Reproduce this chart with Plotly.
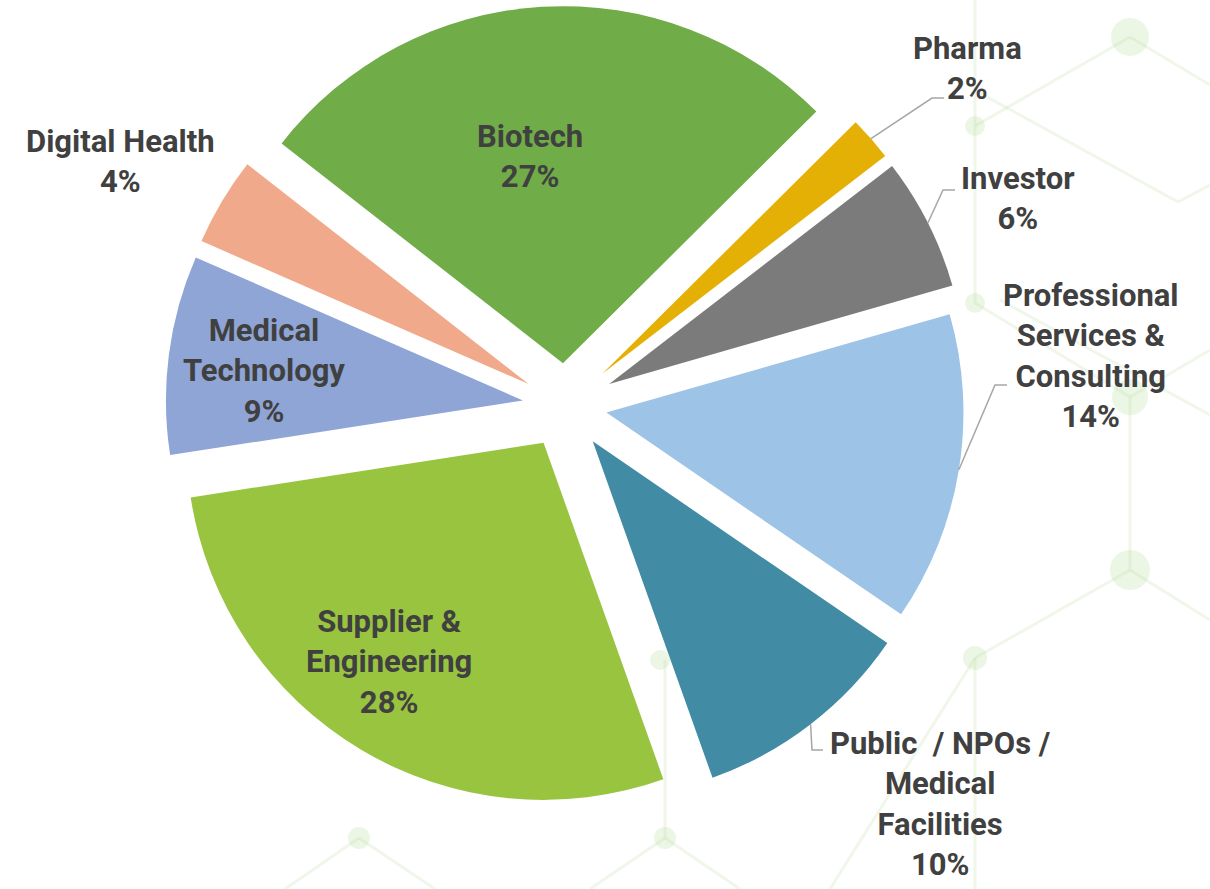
import math
import plotly.graph_objects as go

# data
labels = ["Biotech", "Pharma", "Investor", "Professional Services & Consulting",
          "Public / NPOs / Medical Facilities", "Supplier & Engineering",
          "Medical Technology", "Digital Health"]
shares = [27, 2, 6, 14, 10, 28, 9, 4]
pulls = [0.12, 0.137, 0.137, 0.116, 0.125, 0.12, 0.12, 0.12]
colors = ["#70ac48", "#e5b006", "#7b7b7b", "#9dc3e6", "#418ba5", "#98c440", "#8ea5d5", "#f1a98b"]
label_text = ["Biotech", "Pharma", "Investor", "Professional<br>Services &<br>Consulting",
              "Public  / NPOs /<br>Medical<br>Facilities", "Supplier &<br>Engineering",
              "Medical<br>Technology", "Digital Health"]

W, H = 1210, 889
START = -52  # first slice starts 52 deg left of 12 o'clock

# pie box in pixels
cx, cy, half = 565.5, 406, 406
r = half / (1 + max(pulls))


def X(px):
    return px / W


def Y(py):
    return 1 - py / H


fig = go.Figure(go.Pie(
    labels=labels, values=shares, sort=False, direction="clockwise",
    rotation=START, pull=pulls, textinfo="none",
    marker=dict(colors=colors, line=dict(width=0)),
    domain=dict(x=[X(cx - half), X(cx + half)], y=[Y(cy + half), Y(cy - half)]),
    showlegend=False,
))

# label centres (pixels)
label_pos = {
    "Biotech": (530, 156),
    "Pharma": (967, 68),
    "Investor": (1018, 199),
    "Professional Services & Consulting": (1091, 356),
    "Public / NPOs / Medical Facilities": (940, 804),
    "Supplier & Engineering": (389, 662),
    "Medical Technology": (264, 371),
    "Digital Health": (120, 161),
}
# leader line elbow + end (pixels)
leaders = {
    "Pharma": [(932, 98), (944, 98)],
    "Investor": [(943, 190), (955, 190)],
    "Professional Services & Consulting": [(995, 385), (1007, 385)],
    "Public / NPOs / Medical Facilities": [(812, 750), (823, 750)],
}

total = sum(shares)
cum = 0
anns = []
shapes = []
for lab, txt, v, p in zip(labels, label_text, shares, pulls):
    mid = math.radians(START + 360 * (cum + v / 2) / total)
    cum += v
    lx, ly = label_pos[lab]
    anns.append(dict(
        x=X(lx), y=Y(ly), xref="paper", yref="paper", showarrow=False,
        text=f"{txt}<br>{round(100 * v / total)}%", align="center",
        xanchor="center", yanchor="middle",
        font=dict(family="Roboto", size=31, color="#404040", weight="bold"),
    ))
    if lab in leaders:
        ax = cx + r * (1 + p) * math.sin(mid)
        ay = cy - r * (1 + p) * math.cos(mid)
        pts = [(ax, ay)] + leaders[lab]
        path = "M " + " L ".join(f"{X(a):.5f},{Y(b):.5f}" for a, b in pts)
        shapes.append(dict(type="path", path=path, xref="paper", yref="paper",
                           line=dict(color="#a6a6a6", width=1.5), layer="above"))

# faint hexagon network in the background
nodes = {"A": (1130, 37, 19), "B": (975, 126, 10), "C": (975, 303, 10),
         "D": (1130, 397, 18), "E": (1130, 570, 20), "F": (975, 658, 12),
         "G": (665, 838, 11), "K": (359, 838, 11), "L": (660, 660, 10)}
edges = [((975, 0), (975, 126)), ((975, 126), (1130, 37)), ((975, 126), (975, 303)),
         ((975, 303), (1130, 397)), ((1130, 397), (1130, 570)), ((1130, 570), (975, 658)),
         ((975, 658), (975, 889)), ((1130, 37), (1210, 85)), ((1130, 397), (1210, 350)),
         ((1130, 570), (1210, 620)), ((665, 838), (665, 660)), ((665, 838), (590, 889)),
         ((665, 838), (740, 889)), ((359, 838), (285, 889)), ((359, 838), (435, 889)),
         ((980, 93), (1178, 202)), ((1178, 202), (1210, 185)), ((975, 658), (830, 889)),
         ((1000, 300), (1210, 415))]
for (x0, y0), (x1, y1) in edges:
    shapes.append(dict(type="line", xref="paper", yref="paper", layer="below",
                       x0=X(x0), y0=Y(y0), x1=X(x1), y1=Y(y1),
                       line=dict(color="rgba(170,210,140,0.18)", width=3)))
for nx, ny, nr in nodes.values():
    shapes.append(dict(type="circle", xref="paper", yref="paper", layer="below",
                       x0=X(nx - nr), y0=Y(ny + nr), x1=X(nx + nr), y1=Y(ny - nr),
                       fillcolor="rgba(190,225,165,0.3)", line=dict(width=0)))

fig.update_layout(
    width=W, height=H, margin=dict(l=0, r=0, t=0, b=0),
    paper_bgcolor="white", plot_bgcolor="white",
    annotations=anns, shapes=shapes,
)

# drop the default 8px page margin so the figure sits at the window corner
fig.write_html("out.html", config={"displayModeBar": False},
               post_script="document.body.style.margin='0';")
